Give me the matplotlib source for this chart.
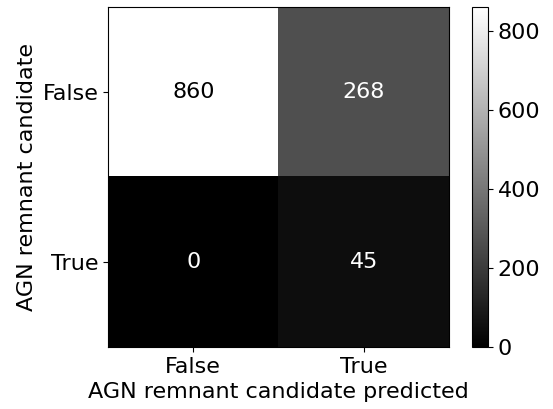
import matplotlib
matplotlib.use("Agg")
import matplotlib.pyplot as plt
import numpy as np

labels = ["False", "True"]
cm = np.array([[860, 268],
               [0, 45]])
cbar_ticks = [0, 200, 400, 600, 800]

plt.rcParams['font.size'] = 16
W, H = 553, 409
fig = plt.figure(figsize=(W/100, H/100), dpi=100)
ax = fig.add_axes([108/W, 1-347/H, (449-108)/W, (347-7)/H])
cax = fig.add_axes([472/W, 1-347/H, (488-472)/W, (347-7)/H])
im = ax.imshow(cm, cmap='gray', aspect='auto', vmin=cm.min(), vmax=cm.max())
thresh = (cm.max() + cm.min()) / 2
for i in range(2):
    for j in range(2):
        ax.text(j, i, str(cm[i, j]), ha='center', va='center',
                color='black' if cm[i, j] > thresh else 'white')
ax.set_xticks(range(2))
ax.set_xticklabels(labels)
ax.set_yticks(range(2))
ax.set_yticklabels(labels)
ax.set_xlabel("AGN remnant candidate predicted")
ax.set_ylabel("AGN remnant candidate")
cb = fig.colorbar(im, cax=cax)
cb.set_ticks(cbar_ticks)
fig.savefig("out.png", dpi=100)
